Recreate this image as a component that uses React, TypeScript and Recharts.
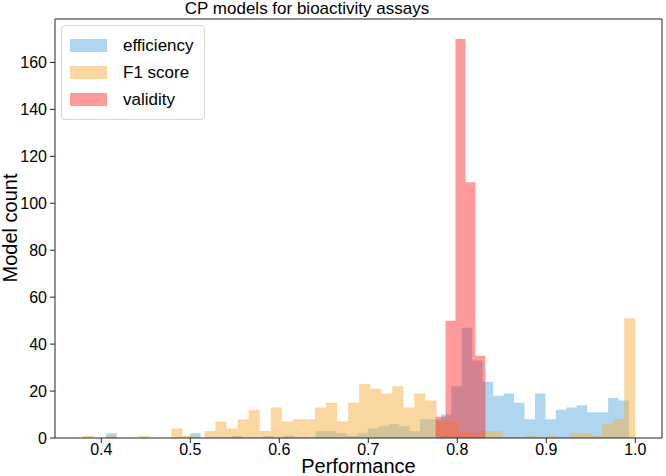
import { Area, ComposedChart, XAxis, YAxis } from 'recharts'

// histogram counts, one bin each
const efficiencyCounts = [
  2, 0, 0, 0, 0, 0, 0, 0, 2, 0,
  0, 0, 1, 0, 0, 1, 0, 1, 0, 0,
  3, 3, 2, 1, 2, 4, 5, 6, 5, 3,
  8, 8, 10, 22, 47, 33, 24, 18, 19, 15,
  8, 19, 8, 12, 13, 14, 11, 11, 17, 16,
]
const f1Counts = [
  1, 0, 1, 0, 0, 1, 0, 0, 4, 1,
  0, 3, 7, 4, 8, 12, 3, 13, 7, 8,
  8, 13, 15, 7, 15, 23, 21, 19, 22, 13,
  19, 16, 7, 7, 3, 2, 3, 3, 0, 0,
  1, 0, 1, 0, 2, 2, 1, 6, 8, 51,
]
const validityCounts = [9, 50, 170, 109, 35]

// bin ranges (min, max) of each series
const efficiencyRange = [0.4058, 0.993]
const f1Range = [0.3795, 1.0]
const validityRange = [0.7756, 0.8316]

const xTicks = [0.4, 0.5, 0.6, 0.7, 0.8, 0.9, 1.0]
const yTicks = [0, 20, 40, 60, 80, 100, 120, 140, 160]

const series = [
  { key: 'efficiency', name: 'efficiency', counts: efficiencyCounts, range: efficiencyRange, color: '#5dade2', opacity: 0.5 },
  { key: 'f1', name: 'F1 score', counts: f1Counts, range: f1Range, color: '#f5b041', opacity: 0.5 },
  { key: 'validity', name: 'validity', counts: validityCounts, range: validityRange, color: '#ff2020', opacity: 0.45 },
]

const FONT = '"Liberation Sans", Arial, sans-serif'
const X_DOMAIN = [0.348, 1.03]
const Y_DOMAIN = [0, 178.5]

// merge all bin edges into one table, each series gives the count of the bin that x falls in
function buildTable() {
  const edges: number[] = []
  series.forEach((s) => {
    const n = s.counts.length
    const w = (s.range[1] - s.range[0]) / n
    for (let k = 0; k <= n; k++) edges.push(s.range[0] + k * w)
  })
  edges.sort((a, b) => a - b)
  return edges.map((x) => {
    const row: Record<string, number> = { x }
    series.forEach((s) => {
      const n = s.counts.length
      const w = (s.range[1] - s.range[0]) / n
      const idx = Math.floor((x - s.range[0]) / w + 1e-6)
      row[s.key] = idx >= 0 && idx < n ? s.counts[idx] : 0
    })
    return row
  })
}

const table = buildTable()

function LegendBox() {
  return (
    <div
      style={{
        position: 'absolute',
        left: 61,
        top: 25,
        border: '1px solid #d6d6d6',
        borderRadius: 4,
        background: 'rgba(255,255,255,0.8)',
        padding: '6px 10px 6px 8px',
        fontFamily: FONT,
        fontSize: 17,
        color: '#000',
      }}
    >
      {series.map((s) => (
        <div key={s.key} style={{ display: 'flex', alignItems: 'center', height: 27 }}>
          <span
            style={{
              display: 'inline-block',
              width: 37,
              height: 13,
              background: s.color,
              opacity: s.opacity,
              marginRight: 16,
            }}
          />
          <span>{s.name}</span>
        </div>
      ))}
    </div>
  )
}

export default function App() {
  return (
    <div style={{ position: 'absolute', left: 0, top: 0, width: 666, height: 476, background: '#fff' }}>
      <div
        style={{
          position: 'absolute',
          left: 0,
          width: 614,
          top: 0,
          textAlign: 'center',
          fontFamily: FONT,
          fontSize: 17,
          lineHeight: '18px',
          color: '#000',
        }}
      >
        CP models for bioactivity assays
      </div>
      <ComposedChart
        width={666}
        height={476}
        data={table}
        margin={{ top: 18, right: 3, bottom: 0, left: 0 }}
      >
        <XAxis
          dataKey="x"
          type="number"
          domain={X_DOMAIN}
          allowDataOverflow
          ticks={xTicks}
          tickFormatter={(v: number) => v.toFixed(1)}
          tick={{ fill: '#000', fontSize: 16, fontFamily: FONT }}
          tickLine={{ stroke: '#222' }}
          axisLine={{ stroke: '#222' }}
          tickSize={5}
          tickMargin={1}
          height={38}
        />
        <XAxis
          xAxisId="top"
          orientation="top"
          dataKey="x"
          type="number"
          domain={X_DOMAIN}
          allowDataOverflow
          tick={false}
          tickLine={false}
          axisLine={{ stroke: '#222' }}
          height={1}
        />
        <YAxis
          type="number"
          domain={Y_DOMAIN}
          allowDataOverflow
          ticks={yTicks}
          tick={{ fill: '#000', fontSize: 16, fontFamily: FONT }}
          tickLine={{ stroke: '#222' }}
          axisLine={{ stroke: '#222' }}
          tickSize={5}
          tickMargin={3}
          width={55}
        />
        <YAxis
          yAxisId="right"
          orientation="right"
          type="number"
          domain={Y_DOMAIN}
          allowDataOverflow
          tick={false}
          tickLine={false}
          axisLine={{ stroke: '#222' }}
          width={1}
        />
        {series.map((s) => (
          <Area
            key={s.key}
            dataKey={s.key}
            name={s.name}
            type="stepAfter"
            stroke="none"
            fill={s.color}
            fillOpacity={s.opacity}
            dot={false}
            activeDot={false}
            isAnimationActive={false}
          />
        ))}
      </ComposedChart>
      <LegendBox />
      <div
        style={{
          position: 'absolute',
          left: 55,
          width: 607,
          top: 457,
          textAlign: 'center',
          fontFamily: FONT,
          fontSize: 20,
          lineHeight: '19px',
          color: '#000',
        }}
      >
        Performance
      </div>
      <div
        style={{
          position: 'absolute',
          left: 10,
          top: 228,
          transform: 'translate(-50%, -50%) rotate(-90deg)',
          fontFamily: FONT,
          fontSize: 20,
          whiteSpace: 'nowrap',
          color: '#000',
        }}
      >
        Model count
      </div>
    </div>
  )
}
